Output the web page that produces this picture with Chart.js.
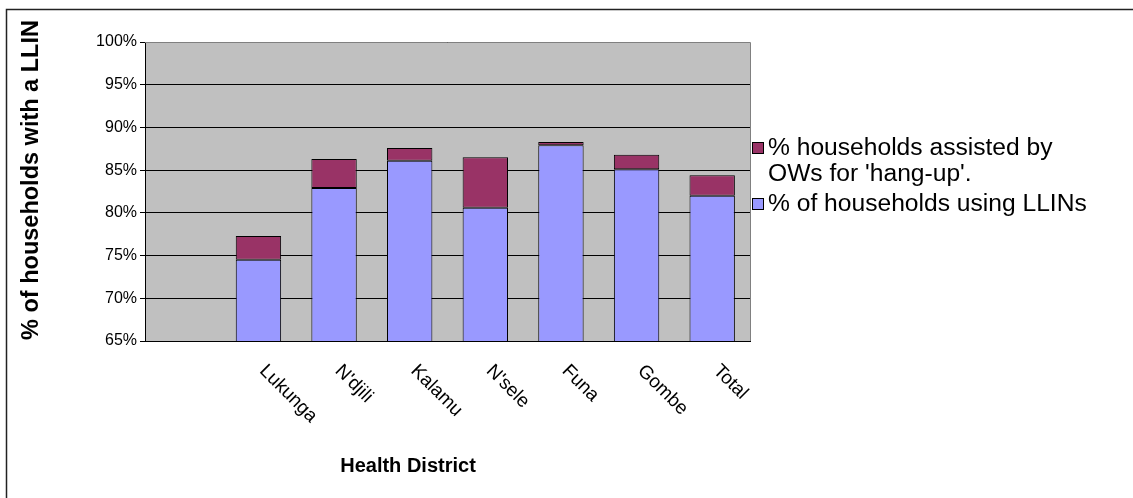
<!DOCTYPE html>
<html>
<head>
<meta charset="utf-8">
<script src="https://cdn.jsdelivr.net/npm/chart.js@4.4.0/dist/chart.umd.min.js"></script>
<style>
  html, body { margin: 0; padding: 0; background: #fff; }
  #wrap { width: 1133px; height: 498px; position: relative; }
</style>
</head>
<body>
<div id="wrap"><canvas id="c" width="1133" height="498"></canvas></div>
<script>
const categories = ['', 'Lukunga', "N'djili", 'Kalamu', "N'sele", 'Funa', 'Gombe', 'Total'];
const usingLLIN = [null, 74.5, 82.9, 86.1, 80.6, 87.9, 85.1, 82.0];
const assistedHangUp = [null, 2.8, 3.4, 1.5, 5.9, 0.4, 1.7, 2.4];
const seriesNames = ["% households assisted by|OWs for 'hang-up'.", '% of households using LLINs'];
const yTicks = { min: 65, max: 100, step: 5 };
const xTitle = 'Health District';
const yTitle = '% of households with a LLIN';

const FONT = "'Liberation Sans', Arial, sans-serif";
const BLUE = '#9999FF';
const MAROON = '#993366';

const decor = {
  id: 'decor',
  beforeDraw(chart) {
    const { ctx, chartArea: a, width, height } = chart;
    ctx.save();
    ctx.fillStyle = '#fff';
    ctx.fillRect(0, 0, width, height);
    ctx.strokeStyle = '#222';
    ctx.lineWidth = 1.5;
    ctx.strokeRect(6.5, 9.5, width + 20, height + 20);
    ctx.fillStyle = '#C0C0C0';
    ctx.fillRect(a.left, a.top, a.right - a.left, a.bottom - a.top);
    ctx.restore();
  },
  afterDraw(chart) {
    const { ctx, chartArea: a, scales } = chart;
    ctx.save();
    ctx.strokeStyle = '#808080';
    ctx.lineWidth = 1;
    ctx.beginPath();
    ctx.moveTo(a.left, a.top + 0.5);
    ctx.lineTo(a.right + 0.5, a.top + 0.5);
    ctx.lineTo(a.right + 0.5, a.bottom);
    ctx.stroke();
    // y axis title
    ctx.fillStyle = '#000';
    ctx.font = 'bold 23.5px ' + FONT;
    ctx.textAlign = 'center';
    ctx.textBaseline = 'middle';
    ctx.save();
    ctx.translate(32, 180);
    ctx.rotate(-Math.PI / 2);
    ctx.fillText(yTitle, 0, 0);
    ctx.restore();
    // rotated category labels
    ctx.font = '19px ' + FONT;
    ctx.textAlign = 'left';
    ctx.textBaseline = 'middle';
    categories.forEach((lab, i) => {
      if (!lab) return;
      const x = scales.x.getPixelForValue(i);
      ctx.save();
      ctx.translate(x + 4, a.bottom + 27);
      ctx.rotate(Math.PI / 4);
      ctx.fillText(lab, 0, 0);
      ctx.restore();
    });
    // x axis title
    ctx.font = 'bold 20px ' + FONT;
    ctx.textAlign = 'center';
    ctx.fillText(xTitle, 408, 466);
    // legend
    const items = [
      { lines: seriesNames[0].split('|'), color: MAROON, y: 148 },
      { lines: seriesNames[1].split('|'), color: BLUE, y: 204 }
    ];
    ctx.font = '23px ' + FONT;
    ctx.textAlign = 'left';
    items.forEach(it => {
      ctx.fillStyle = it.color;
      ctx.fillRect(752.5, it.y - 5.5, 11, 11);
      ctx.strokeStyle = '#000';
      ctx.lineWidth = 1;
      ctx.strokeRect(752.5, it.y - 5.5, 11, 11);
      ctx.fillStyle = '#000';
      it.lines.forEach((ln, k) => {
        ctx.save();
        ctx.translate(768, it.y + 1 + k * 26);
        ctx.scale(1.07, 1);
        ctx.fillText(ln, 0, 0);
        ctx.restore();
      });
    });
    ctx.restore();
  }
};

new Chart(document.getElementById('c'), {
  type: 'bar',
  data: {
    labels: categories,
    datasets: [
      { label: seriesNames[1].replace('|', ' '), data: usingLLIN, backgroundColor: BLUE, borderColor: '#000', borderWidth: 1, borderSkipped: false },
      { label: seriesNames[0].replace('|', ' '), data: assistedHangUp, backgroundColor: MAROON, borderColor: '#000', borderWidth: 1, borderSkipped: false }
    ]
  },
  options: {
    responsive: false,
    animation: false,
    devicePixelRatio: 1,
    layout: { padding: { left: 0, right: 383, top: 42, bottom: 0 } },
    datasets: { bar: { categoryPercentage: 1.0, barPercentage: 0.6 } },
    plugins: { legend: { display: false }, tooltip: { enabled: false } },
    scales: {
      x: {
        stacked: true,
        grid: { display: false },
        border: { color: '#000', width: 1 },
        ticks: { display: false },
        afterFit(s) { s.height = 157; }
      },
      y: {
        stacked: true,
        min: yTicks.min,
        max: yTicks.max,
        afterFit(s) { s.width = 145; },
        ticks: {
          stepSize: yTicks.step,
          color: '#000',
          padding: 3,
          font: { family: FONT, size: 16 },
          callback: v => v + '%'
        },
        grid: { color: '#000', lineWidth: 1, tickLength: 5, drawTicks: true },
        border: { color: '#000', width: 1 },
        title: { display: false }
      }
    }
  },
  plugins: [decor]
});
</script>
</body>
</html>
